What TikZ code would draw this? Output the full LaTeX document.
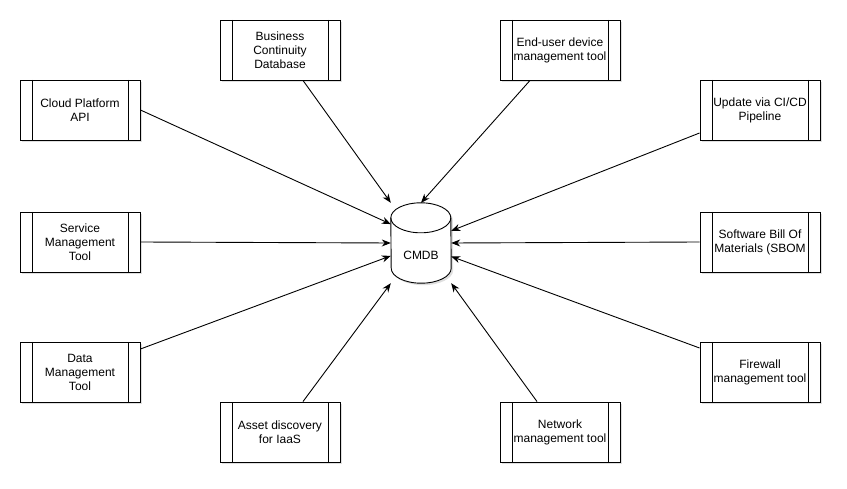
\documentclass[tikz,border=0pt]{standalone}
\usepackage{fontspec}
\setmainfont{Liberation Sans}
\usetikzlibrary{positioning,arrows.meta,shadows}
\tikzstyle{sourceBox}=[draw, rectangle, line width=0.9pt, fill=white, minimum width=120pt, minimum height=60pt, inner sep=0pt, align=center, font=\fontsize{12pt}{14pt}\selectfont, drop shadow={shadow xshift=2pt, shadow yshift=-2pt, opacity=0.25}, path picture={\draw[line width=0.9pt] ([xshift=12pt]path picture bounding box.north west) -- ([xshift=12pt]path picture bounding box.south west); \draw[line width=0.9pt] ([xshift=-12pt]path picture bounding box.north east) -- ([xshift=-12pt]path picture bounding box.south east);}]
\tikzstyle{dbNode}=[rectangle, minimum width=60pt, minimum height=80pt, inner sep=0pt]
\tikzstyle{dbOutline}=[draw, line width=0.9pt, fill=white]
\tikzstyle{feedArrow}=[-{Stealth[length=9pt,width=7pt]}, line width=0.9pt]

\begin{document}
\begin{tikzpicture}[x=1pt, y=-1pt]
	\useasboundingbox (0,0) rectangle (847,489);

	\node[dbNode] (cmdb) at (421,243) {};
	\path[dbOutline, drop shadow={shadow xshift=2pt, shadow yshift=-2pt, opacity=0.25}] ([yshift=-15pt]cmdb.north west) arc[start angle=180, end angle=0, x radius=30pt, y radius=15pt] -- ([yshift=15pt]cmdb.south east) arc[start angle=0, end angle=-180, x radius=30pt, y radius=15pt] -- cycle;
	\draw[line width=0.9pt] ([yshift=-15pt]cmdb.north west) arc[start angle=180, end angle=360, x radius=30pt, y radius=15pt];
	\node[font=\fontsize{12pt}{14pt}\selectfont] (cmdbText) at ([yshift=-12pt]cmdb.center) {CMDB};

	\node[sourceBox] (cloud) at (80,110) {Cloud Platform\\API};
	\node[sourceBox] (service) at (80,242) {Service\\Management\\Tool};
	\node[sourceBox] (data) at (80,372) {Data\\Management\\Tool};
	\node[sourceBox] (bcd) at (280,50) {Business\\Continuity\\Database};
	\node[sourceBox] (endUser) at (560,50) {End-user device\\management tool};
	\node[sourceBox] (update) at (760,110) {Update via CI/CD\\Pipeline};
	\node[sourceBox] (sbom) at (760,242) {Software Bill Of\\Materials (SBOM};
	\node[sourceBox] (firewall) at (760,372) {Firewall\\management tool};
	\node[sourceBox] (asset) at (280,432) {Asset discovery\\for IaaS};
	\node[sourceBox] (network) at (560,432) {Network\\management tool};

	\draw[feedArrow] (cloud.east) -- (cmdb.148);
	\draw[feedArrow] (service.east) -- (cmdb.west);
	\draw[feedArrow] ([yshift=23pt]data.east) -- (cmdb.203);
	\draw[feedArrow] ([xshift=23pt]bcd.south) -- (cmdb.north west);
	\draw[feedArrow] ([xshift=-30pt]endUser.south) -- (cmdb.north);
	\draw[feedArrow] ([yshift=-23pt]update.west) -- (cmdb.22);
	\draw[feedArrow] (sbom.west) -- (cmdb.east);
	\draw[feedArrow] ([yshift=24pt]firewall.west) -- (cmdb.336);
	\draw[feedArrow] ([xshift=23pt]asset.north) -- (cmdb.south west);
	\draw[feedArrow] ([xshift=-23pt]network.north) -- (cmdb.south east);
\end{tikzpicture}
\end{document}
